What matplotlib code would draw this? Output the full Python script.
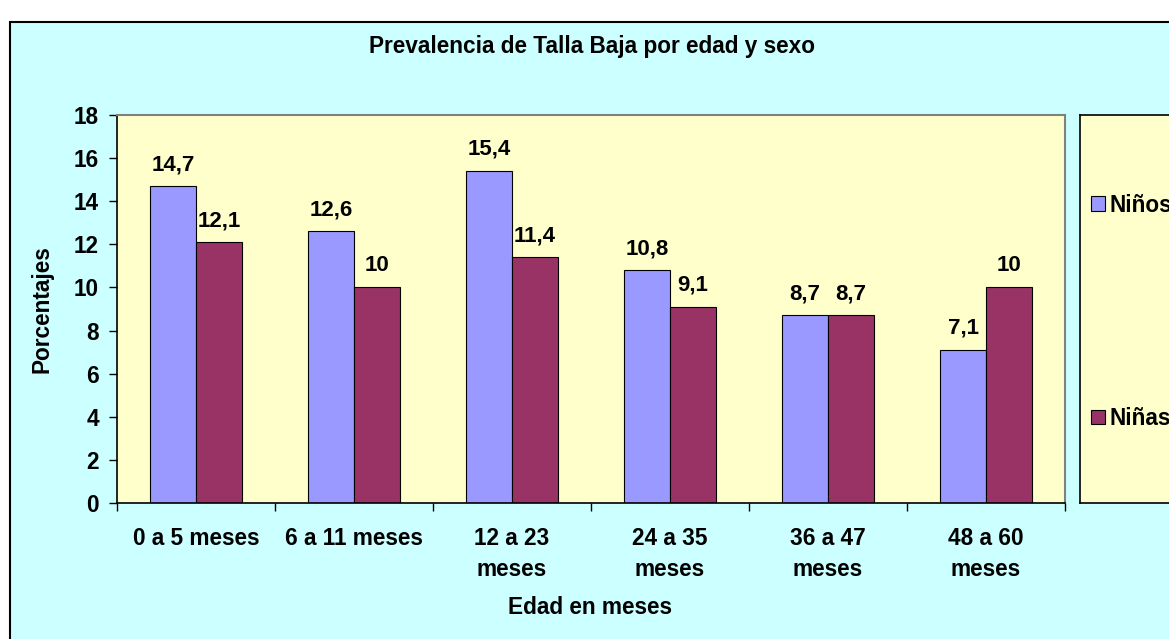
import matplotlib
matplotlib.use('Agg')
import matplotlib.pyplot as plt
from matplotlib.patches import Rectangle
import numpy as np

# Data
categorias = ['0 a 5 meses', '6 a 11 meses', '12 a 23\nmeses', '24 a 35\nmeses',
              '36 a 47\nmeses', '48 a 60\nmeses']
ninos = [14.7, 12.6, 15.4, 10.8, 8.7, 7.1]
ninas = [12.1, 10, 11.4, 9.1, 8.7, 10]
series = ['Niños', 'Niñas']
yticks = [0, 2, 4, 6, 8, 10, 12, 14, 16, 18]

plt.rcParams['font.family'] = ['Liberation Sans', 'DejaVu Sans']
plt.rcParams['font.weight'] = 'bold'
FS = 16.3

W, H = 1169, 639
fig = plt.figure(figsize=(W / 100, H / 100), dpi=100)
fig.patch.set_facecolor('white')

def box(x0, y0, x1, y1):
    # pixel box (top-left origin) -> figure fraction
    return [x0 / W, 1 - y1 / H, (x1 - x0) / W, (y1 - y0) / H]

# cyan chart frame
fig.patches.append(Rectangle((10 / W, -0.05), 1.1, 1 - 22 / H + 0.05,
                             transform=fig.transFigure, facecolor='#CCFFFF',
                             edgecolor='black', linewidth=1.5, zorder=-5))

ax = fig.add_axes(box(117, 115, 1065, 503))
ax.set_facecolor('#FFFFCC')

x = np.arange(len(categorias))
w = 0.288
b1 = ax.bar(x - w / 2, ninos, w, color='#9999FF', edgecolor='black', linewidth=0.8, label=series[0])
b2 = ax.bar(x + w / 2, ninas, w, color='#993366', edgecolor='black', linewidth=0.8, label=series[1])

for bars, vals in [(b1, ninos), (b2, ninas)]:
    for r, v in zip(bars, vals):
        txt = ('%g' % v).replace('.', ',')
        ax.annotate(txt, (r.get_x() + r.get_width() / 2, v), xytext=(0, 8),
                    textcoords='offset points', ha='center', va='bottom',
                    fontsize=16, fontweight='bold')

ax.set_xlim(-0.5, len(categorias) - 0.5)
ax.set_ylim(0, 18)
ax.set_yticks(yticks)
ax.tick_params(axis='y', length=6, width=1, labelsize=FS, pad=7)

ax.set_xticks(x)
ax.set_xticklabels(categorias, fontsize=FS, fontweight='bold', linespacing=1.45)
ax.set_xticks(np.arange(-0.5, len(categorias)), minor=True)
ax.tick_params(axis='x', which='major', length=0, pad=17)
ax.tick_params(axis='x', which='minor', length=6, width=1)

for s in ['left', 'bottom']:
    ax.spines[s].set_color('black')
    ax.spines[s].set_linewidth(1.2)
for s in ['top', 'right']:
    ax.spines[s].set_color('#808080')
    ax.spines[s].set_linewidth(1.5)

fig.text(592 / W, 1 - 47 / H, 'Prevalencia de Talla Baja por edad y sexo',
         ha='center', va='center', fontsize=FS, fontweight='bold')
fig.text(590 / W, 1 - 607 / H, 'Edad en meses', ha='center', va='center',
         fontsize=FS, fontweight='bold')
fig.text(42 / W, 1 - 309 / H, 'Porcentajes', ha='center', va='center',
         rotation=90, fontsize=FS, fontweight='bold')

# legend box
lax = fig.add_axes(box(1080, 115, 1200, 503))
lax.set_facecolor('#FFFFCC')
lax.set_xticks([])
lax.set_yticks([])
for s in lax.spines.values():
    s.set_color('black')
    s.set_linewidth(1.2)
lax.legend(handles=[b1, b2], loc='center left', bbox_to_anchor=(-0.075, 0.493),
           frameon=False, handlelength=0.6, handleheight=0.6,
           handletextpad=0.2, labelspacing=8.4, prop={'weight': 'bold', 'size': FS})

fig.savefig('out.png', dpi=100, facecolor=fig.get_facecolor())
